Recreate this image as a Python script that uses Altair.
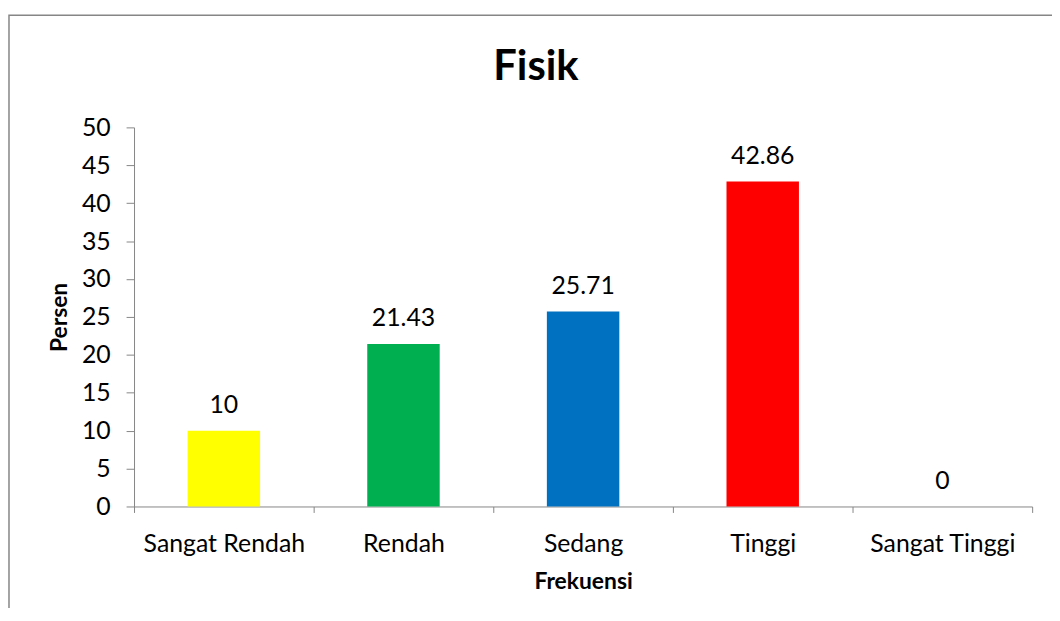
import altair as alt
import pandas as pd

categories = ["Sangat Rendah", "Rendah", "Sedang", "Tinggi", "Sangat Tinggi"]
values = [10, 21.43, 25.71, 42.86, 0]
labels = ["10", "21.43", "25.71", "42.86", "0"]
colors = ["#FFFF00", "#00B050", "#0070C0", "#FF0000", "#7030A0"]
y_ticks = [0, 5, 10, 15, 20, 25, 30, 35, 40, 45, 50]
title_text = "Fisik"

df = pd.DataFrame({"Frekuensi": categories, "Persen": values, "label": labels})

FONT = "Lato"

x_enc = alt.X(
    "Frekuensi:N",
    sort=categories,
    title="Frekuensi",
    scale=alt.Scale(paddingInner=0, paddingOuter=0),
    axis=alt.Axis(
        labelAngle=0, tickBand="extent", tickSize=6, domainColor="#868686",
        tickColor="#868686", labelFontSize=25, labelPadding=19, labelColor="#000000",
        titleFontSize=23, titleFontWeight="bold", titlePadding=15, titleColor="#000000",
        labelFont=FONT, titleFont=FONT, labelOverlap=False,
    ),
)

y_enc = alt.Y(
    "Persen:Q",
    title="Persen",
    scale=alt.Scale(domain=[0, 50]),
    axis=alt.Axis(
        values=y_ticks, grid=False, tickSize=8, domainColor="#868686",
        tickColor="#868686", labelFontSize=25, labelPadding=16, labelColor="#000000",
        titleFontSize=23, titleFontWeight="bold", titlePadding=10, titleColor="#000000",
        labelFont=FONT, titleFont=FONT, labelOverlap=False,
    ),
)

base = alt.Chart(df).encode(x=x_enc, y=y_enc)

bars = base.mark_bar(size=73).encode(
    color=alt.Color("Frekuensi:N", scale=alt.Scale(domain=categories, range=colors), legend=None),
)

text = base.mark_text(dy=-26, fontSize=25, font=FONT, color="#000000").encode(
    text="label:N",
)

border = alt.Chart(alt.Data(values=[{}])).mark_rect(
    fill="#ffffff", fillOpacity=0, stroke="#868686", strokeWidth=1.5
).encode(
    x=alt.value(-126), x2=alt.value(930), y=alt.value(-113), y2=alt.value(500)
)

title = alt.Chart(alt.Data(values=[{"t": title_text}])).mark_text(
    fontSize=42, fontWeight="bold", font=FONT, color="#000000", baseline="middle"
).encode(
    x=alt.value(405), y=alt.value(-61), text="t:N"
)

chart = alt.layer(border, bars, text, title).properties(
    width=905,
    height=382,
    autosize=alt.AutoSizeParams(type="none"),
    padding={"left": 127, "top": 118, "right": 20, "bottom": 100},
).configure(background="#ffffff", view=alt.ViewConfig(stroke=None))

chart.save("out.html", embed_options={"renderer": "svg", "actions": False})
